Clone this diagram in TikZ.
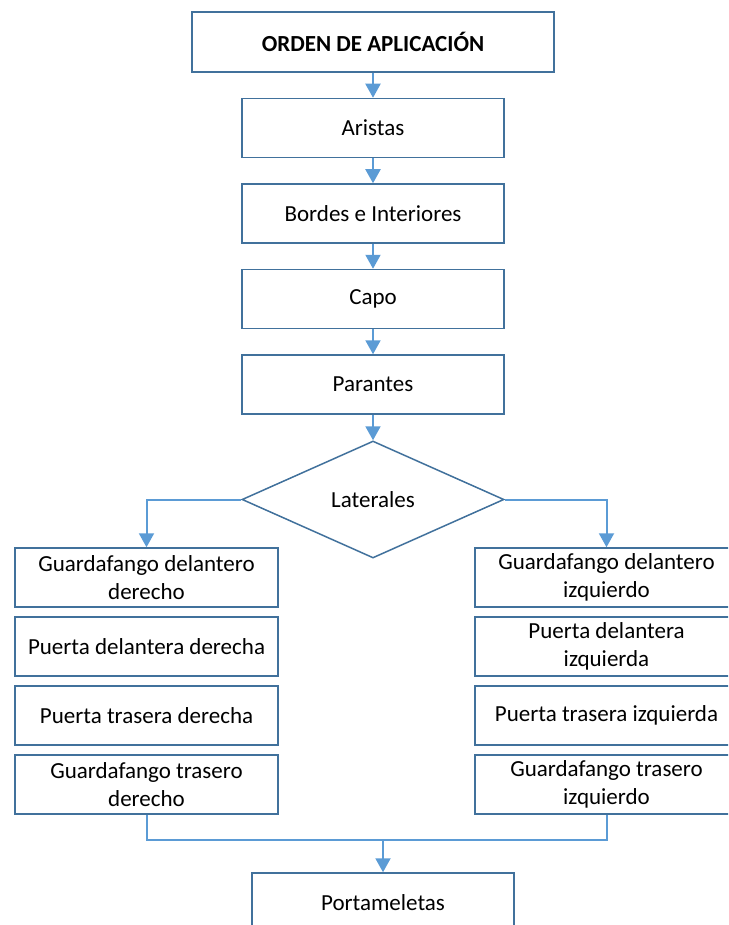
\documentclass[tikz,border=0pt]{standalone}
\usepackage{fontspec}
\setmainfont{Carlito}
\usetikzlibrary{positioning,arrows.meta,shapes.geometric}

\definecolor{boxblue}{HTML}{41719C}
\definecolor{lineblue}{HTML}{5B9BD5}

\begin{document}
\begin{tikzpicture}[
  x=1pt, y=-1pt,
  font=\fontsize{23}{28}\selectfont,
  node distance=25pt,
  box/.style={draw=boxblue, line width=1.5pt, fill=white, align=center,
              minimum width=262pt, minimum height=59pt, inner sep=2pt},
  head/.style={box, minimum width=362pt, minimum height=60pt,
               font=\fontsize{23}{28}\selectfont\bfseries},
  side/.style={box, minimum width=263pt},
  dec/.style={draw=boxblue, line width=1.5pt, fill=white, diamond,
              minimum width=262pt, minimum height=117pt, inner sep=0pt},
  arr/.style={-{Triangle[length=14pt,width=15pt]}, draw=lineblue, line width=2pt},
  lin/.style={draw=lineblue, line width=2pt}
]
\clip (0,0) rectangle (728,925);

% ---------------- main column ----------------
\node[head] (orden) at (373,42) {ORDEN DE APLICACIÓN};
\node[box, below=of orden] (aristas) {Aristas};
\node[box, below=of aristas] (bordes) {Bordes e Interiores};
\node[box, below=of bordes] (capo) {Capo};
\node[box, below=of capo] (parantes) {Parantes};
\node[dec, below=25.5pt of parantes] (laterales) {Laterales};

% ---------------- left side ----------------
\node[side] (gdd) at (146.5,577.5) {Guardafango delantero\\derecho};
\node[side, below=8.5pt of gdd] (pdd) {Puerta delantera derecha};
\node[side, below=8.5pt of pdd] (ptd) {Puerta trasera derecha};
\node[side, below=8.5pt of ptd] (gtd) {Guardafango trasero\\derecho};

% ---------------- right side ----------------
\node[side] (gdi) at (606.5,577.5) {Guardafango delantero\\izquierdo};
\node[side, below=8.5pt of gdi] (pdi) {Puerta delantera\\izquierda};
\node[side, below=8.5pt of pdi] (pti) {Puerta trasera izquierda};
\node[side, below=8.5pt of pti] (gti) {Guardafango trasero\\izquierdo};

% ---------------- bottom ----------------
\node[box] (porta) at (383,902.5) {Portameletas};
\coordinate (join) at (383,840);

% ---------------- arrows ----------------
\draw[arr] (orden) -- (aristas);
\draw[arr] (aristas) -- (bordes);
\draw[arr] (bordes) -- (capo);
\draw[arr] (capo) -- (parantes);
\draw[arr] (parantes) -- (laterales);
\draw[arr] (laterales.west) -| (gdd.north);
\draw[arr] (laterales.east) -| (gdi.north);
\draw[lin] (gtd.south) |- (join) -| (gti.south);
\draw[arr] (join) -- (porta.north);

\end{tikzpicture}
\end{document}
